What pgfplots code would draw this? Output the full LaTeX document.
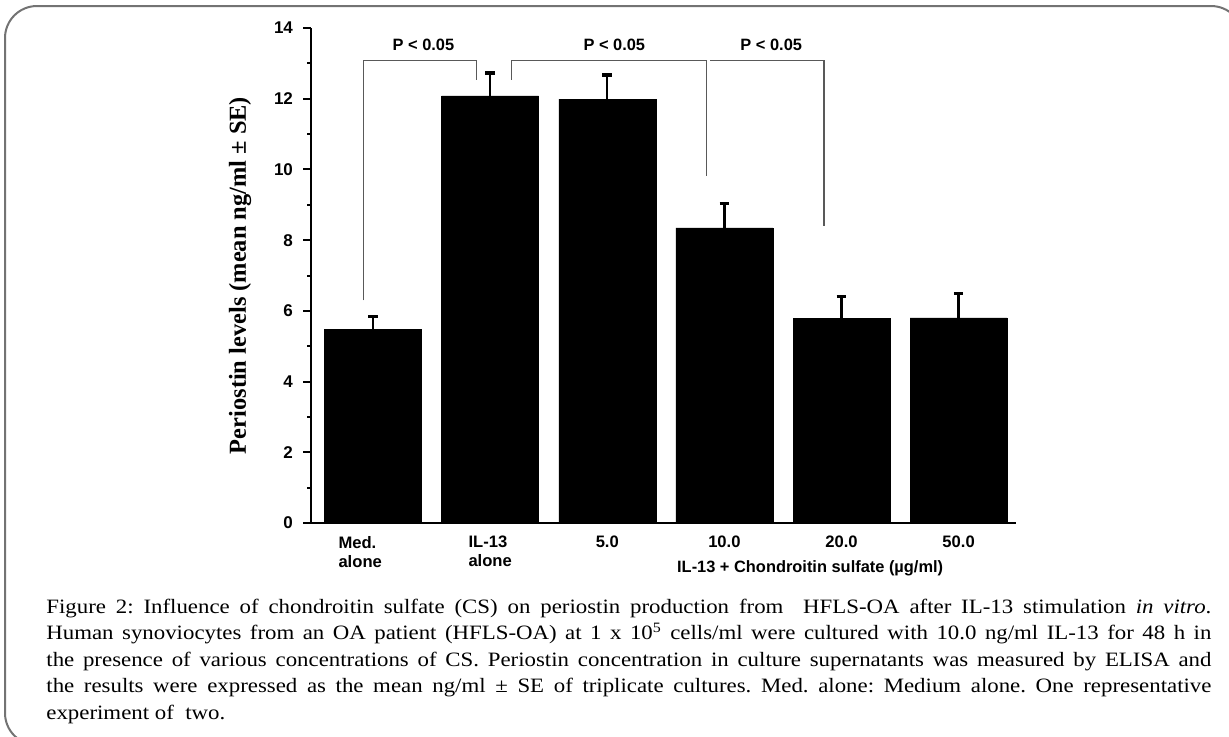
\documentclass[border=0pt]{standalone}
\usepackage{fontspec}
\setmainfont{Liberation Serif}
\setsansfont{Liberation Sans}
\newfontfamily\capfont{Liberation Serif}[FakeStretch=1.12]
\usepackage{pgfplots}
\pgfplotsset{compat=1.18}
\definecolor{framegray}{gray}{0.45}
\definecolor{bracketgray}{gray}{0.35}
\begin{document}
\frenchspacing
\begin{tikzpicture}
\useasboundingbox (0,0) rectangle (614.5pt,-368pt);
\draw[line width=1pt, framegray, rounded corners=16pt] (2.5pt,-3pt) rectangle (621.5pt,-372.5pt);
\begin{axis}[
  at={(155.5pt,-261.5pt)}, anchor=south west,
  scale only axis, width=352.5pt, height=247.5pt,
  xmin=-0.53, xmax=5.49, ymin=0, ymax=14,
  axis lines=left, axis line style={-, line width=1pt},
  ybar, bar width=48.5pt,
  xtick={-0.11,1,2,3,4,5},
  xticklabels={{Med.\\alone},{IL-13\\alone},5.0,10.0,20.0,50.0},
  x tick label style={font=\sffamily\bfseries\fontsize{8.3}{9.5}\selectfont, align=left, anchor=north, yshift=1pt},
  xtick style={draw=none},
  ytick={0,2,...,14}, minor y tick num=1,
  tick align=outside, major tick length=4pt, minor tick length=2pt,
  ytick style={line width=1pt, black},
  y tick label style={font=\sffamily\bfseries\fontsize{8.5}{9.5}\selectfont, xshift=-1.5pt},
  /pgf/number format/assume math mode=true,
  ylabel={Periostin levels (mean ng/ml ± SE)},
  ylabel style={font=\bfseries\fontsize{12.2}{14}\selectfont, at={(axis description cs:-0.1007,0.5)}, anchor=center},
  xlabel={IL-13 + Chondroitin sulfate (µg/ml)},
  xlabel style={font=\sffamily\bfseries\fontsize{8.2}{9.5}\selectfont, at={(axis description cs:0.708,0)}, anchor=center, yshift=-22.5pt},
  clip=false,
]
\addplot[fill=black, draw=black, line width=0.2pt,
  error bars/.cd, y dir=plus, y explicit,
  error bar style={draw=black, line width=1.2pt},
  error mark options={draw=black, line width=1.6pt, mark size=2.4pt, rotate=90}]
  coordinates {
  (0,5.47) +- (0,0.36)
  (1,12.08) +- (0,0.65)
  (2,11.99) +- (0,0.68)
  (3,8.35) +- (0,0.68)
  (4,5.78) +- (0,0.63)
  (5,5.80) +- (0,0.70)
  };
\draw[bracketgray, line width=0.6pt] (axis cs:-0.08,6.3) -- (axis cs:-0.08,13.09) -- (axis cs:0.88,13.09) -- (axis cs:0.88,12.53);
\draw[bracketgray, line width=0.6pt] (axis cs:1.18,12.53) -- (axis cs:1.18,13.09) -- (axis cs:2.85,13.09) -- (axis cs:2.85,9.81);
\draw[bracketgray, line width=0.6pt] (axis cs:2.88,13.09) -- (axis cs:3.85,13.09) -- (axis cs:3.85,8.4);
\node[font=\sffamily\bfseries\fontsize{8.2}{9.5}\selectfont] at (axis cs:0.43,13.52) {P < 0.05};
\node[font=\sffamily\bfseries\fontsize{8.2}{9.5}\selectfont] at (axis cs:2.06,13.52) {P < 0.05};
\node[font=\sffamily\bfseries\fontsize{8.2}{9.5}\selectfont] at (axis cs:3.40,13.52) {P < 0.05};
\end{axis}
\node[anchor=base west, inner sep=0pt] at (23pt,-306.5pt) {\parbox[t]{582.5pt}{\capfont\fontsize{10.2}{13.3}\selectfont\frenchspacing
\makebox[582.5pt][s]{Figure 2: Influence of chondroitin sulfate (CS) on periostin production from~ HFLS-OA after IL-13 stimulation \textit{in vitro}.}\\
\makebox[582.5pt][s]{Human synoviocytes from an OA patient (HFLS-OA) at 1 x 10\textsuperscript{5} cells/ml were cultured with 10.0 ng/ml IL-13 for 48 h in}\\
\makebox[582.5pt][s]{the presence of various concentrations of CS. Periostin concentration in culture supernatants was measured by ELISA and}\\
\makebox[582.5pt][s]{the results were expressed as the mean ng/ml ± SE of triplicate cultures. Med. alone: Medium alone. One representative}\\
experiment of~ two.}};
\end{tikzpicture}
\end{document}
